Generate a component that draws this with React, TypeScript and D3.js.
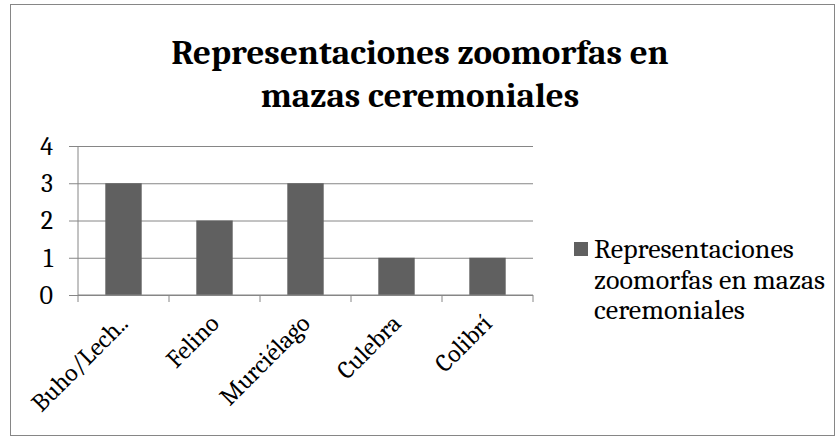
import React, { useRef, useEffect } from 'react';
import * as d3 from 'd3';

const categories = ['Buho/Lech..', 'Felino', 'Murciélago', 'Culebra', 'Colibrí'];
const values = [3, 2, 3, 1, 1];
const yTicks = [0, 1, 2, 3, 4];
const titleLines = ['Representaciones zoomorfas en', 'mazas ceremoniales'];
const legendLines = ['Representaciones', 'zoomorfas en mazas', 'ceremoniales'];

const App = () => {
  const svgRef = useRef<SVGSVGElement>(null);

  useEffect(() => {
    const svg = d3.select(svgRef.current);
    svg.selectAll('*').remove();

    const font = 'Cambria, Caladea, "DejaVu Serif", serif';
    const plot = { left: 78, right: 533, top: 146, bottom: 295 };
    const grey = '#868686';

    // outer frame
    svg.append('rect')
      .attr('x', 10.5).attr('y', 4.5)
      .attr('width', 824).attr('height', 431)
      .attr('fill', '#fff')
      .attr('stroke', grey);

    // title
    svg.append('text')
      .attr('text-anchor', 'middle')
      .attr('font-family', font)
      .attr('font-weight', 'bold')
      .attr('font-size', 35)
      .selectAll('tspan')
      .data(titleLines)
      .enter().append('tspan')
      .attr('x', 420)
      .attr('y', (d, i) => 64 + i * 43)
      .text(d => d);

    const x = d3.scaleBand()
      .domain(categories)
      .range([plot.left, plot.right])
      .paddingInner(0.6)
      .paddingOuter(0.3);

    const y = d3.scaleLinear()
      .domain([0, 4])
      .range([plot.bottom, plot.top]);

    // gridlines + y axis
    const yAxis = svg.append('g')
      .attr('transform', `translate(${plot.left},0)`)
      .call(d3.axisLeft(y).tickValues(yTicks).tickSize(9).tickSizeOuter(0).tickPadding(16)
        .tickFormat(d3.format('d')));
    yAxis.select('.domain').remove();
    yAxis.selectAll('line').attr('stroke', grey);
    yAxis.selectAll('text')
      .attr('font-family', font)
      .attr('font-size', 26)
      .attr('fill', '#000');
    yAxis.selectAll('.tick').append('line')
      .attr('x2', plot.right - plot.left)
      .attr('stroke', grey);

    svg.append('line')
      .attr('x1', plot.left).attr('x2', plot.left)
      .attr('y1', plot.top).attr('y2', plot.bottom)
      .attr('stroke', grey);

    // bars
    svg.append('g')
      .selectAll('rect')
      .data(values)
      .enter().append('rect')
      .attr('x', (d, i) => x(categories[i]) as number)
      .attr('y', d => y(d))
      .attr('width', x.bandwidth())
      .attr('height', d => plot.bottom - y(d))
      .attr('fill', '#606060');

    // x axis, ticks between categories
    const boundaries = d3.range(categories.length + 1)
      .map(i => plot.left + i * (plot.right - plot.left) / categories.length);
    const xAxis = svg.append('g');
    xAxis.append('line')
      .attr('x1', plot.left).attr('x2', plot.right)
      .attr('y1', plot.bottom).attr('y2', plot.bottom)
      .attr('stroke', grey);
    xAxis.selectAll('.xt')
      .data(boundaries)
      .enter().append('line')
      .attr('x1', d => d).attr('x2', d => d)
      .attr('y1', plot.bottom).attr('y2', plot.bottom + 7)
      .attr('stroke', grey);
    xAxis.selectAll('text')
      .data(categories)
      .enter().append('text')
      .attr('transform', d => `translate(${(x(d) as number) + x.bandwidth() / 2 + 6},${plot.bottom + 30}) rotate(-45)`)
      .attr('text-anchor', 'end')
      .attr('font-family', font)
      .attr('font-size', 25)
      .attr('fill', '#000')
      .text(d => d);

    // legend
    const legend = svg.append('g');
    legend.append('rect')
      .attr('x', 574).attr('y', 242)
      .attr('width', 14).attr('height', 14)
      .attr('fill', '#606060');
    legend.append('text')
      .attr('font-family', font)
      .attr('font-size', 28)
      .attr('fill', '#000')
      .selectAll('tspan')
      .data(legendLines)
      .enter().append('tspan')
      .attr('x', 594)
      .attr('y', (d, i) => 258 + i * 30.5)
      .text(d => d);
  }, []);

  return <svg ref={svgRef} width={840} height={440} style={{ position: 'absolute', left: 0, top: 0 }}></svg>;
};

export default App;
